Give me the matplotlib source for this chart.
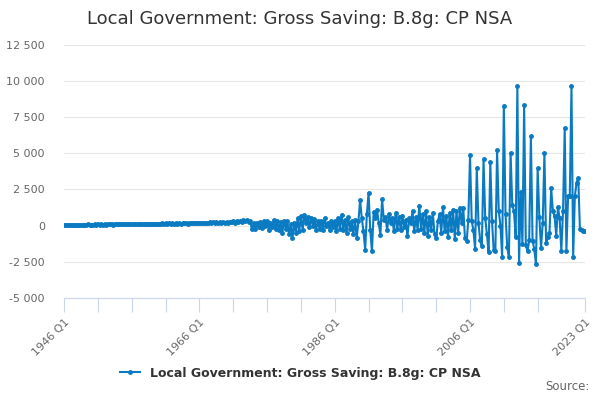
import numpy as np
import matplotlib.pyplot as plt
from matplotlib.ticker import FuncFormatter

# quarterly values, 1946 Q1 .. 2023 Q1
early = [
    60, 40, 70, 50,   70, 50, 60, 60,   60, 50, 70, 60,   70, 60, 80, 60,
    70, 60, 80, 70,   80, 60, 90, 70,   80, 70, 90, 80,   90, 70, 100, 80,
    90, 80, 100, 90,  100, 80, 110, 90,  110, 90, 120, 100,  110, 90, 130, 100,
    120, 100, 130, 110,  130, 100, 140, 120,  140, 110, 150, 120,  150, 120, 160, 130,
    160, 130, 170, 140,  170, 120, 180, 150,  180, 140, 190, 160,  190, 150, 200, 170,
    200, 150, 210, 170,  210, 160, 220, 180,  220, 170, 240, 190,  250, 180, 260, 200,
    270, 190, 280, 220,  300, 210, 330, 240,  300, 250, 380, 300,  420, 250, 300, -250,
]
seventies = [
    150, -250, 200, -100,   250, -150, 300, 0,   350, -300, 200, -100,
    400, -200, 300, -300,   250, -500, 350, -200,   300, -600, 100, -850,
    200, -500, 500, -400,   650, -300, 750, 200,   600, -100, 500, 0,
    450, -300, 300, -200,   350, -300, 500, 0,   200, -300, 300, -100,
]
nineties = [
    300, -400, 500, -200,   760, -300, 400, -500,   600, -200, 300, -600,
    400, -830, 300, 1760,   500, -400, -1670, 800,   2270, -300, -1780, 920,
    500, 1110, 200, -625,   1850, 400, 600, -300,   800, 200, 500, -400,
    900, -200, 600, -300,   700, -100, 400, -740,   500, 200, 990, -400,
    600, -300, 1390, -200,   800, -500, 1000, -700,   600, -300, 900, -600,
    -850, 300, 800, -500,   1300, -400, 700, -800,   900, -300, 1100, -900,
    1000, -500, 1230, 200,   1230, -850, -1090, 400,
]
recent = [
    4860, 300, -300, -1600,   3960, 200, -1000, -1430,   4580, 500, -600, -1850,
    4400, 300, -1700, -1740,   5230, 1000, 0, -2170,   8290, 800, -1500, -2200,
    5000, 1400, 1000, -800,   9630, -2590, 2340, -1300,   8350, -1320, -1780, -1000,
    6180, -1090, -1600, -2660,   3960, 600, -1550, 200,   5020, -1200, -800, -500,
    2570, 1000, 650, -700,   1300, 500, -1740, 1000,   6740, -1780, 2040, 2040,
    9680, -2200, 2040, 2960,   3310, -250, -300, -350,   -400,
]
values = early + seventies + nineties + recent
tick_pos = list(range(0, 300, 20)) + [308]
label_pos = {0: '1946 Q1', 80: '1966 Q1', 160: '1986 Q1', 240: '2006 Q1', 308: '2023 Q1'}

name = 'Local Government: Gross Saving: B.8g: CP NSA'
blue = '#0a7bc2'

fig = plt.figure(figsize=(6, 4), dpi=100)
ax = fig.add_axes([0.107, 0.255, 0.868, 0.633])
x = np.arange(len(values))
ax.plot(x, values, color=blue, lw=1.5, marker='o', ms=2.5, label=name)

ax.set_xlim(0, 308)
ax.set_ylim(-5000, 12500)
ax.set_yticks(range(-5000, 12501, 2500))
ax.yaxis.set_major_formatter(FuncFormatter(lambda v, p: f'{int(v):,}'.replace(',', ' ')))
ax.grid(axis='y', color='#e6e6e6', lw=0.8)
ax.set_axisbelow(True)
for s in ['top', 'right', 'left']:
    ax.spines[s].set_visible(False)
ax.spines['bottom'].set_color('#ccd6eb')
ax.tick_params(axis='y', length=0, labelsize=8, labelcolor='#666666', pad=14)
ax.set_xticks(tick_pos)
ax.set_xticklabels([label_pos.get(t, '') for t in tick_pos], rotation=45, ha='right',
                   rotation_mode='anchor')
ax.tick_params(axis='x', length=10, color='#ccd6eb', labelsize=8, labelcolor='#666666')

fig.suptitle(name, y=0.975, fontsize=13, color='#333333')
leg = fig.legend(loc='center', bbox_to_anchor=(0.5, 0.067), frameon=False,
                 prop={'weight': 'bold', 'size': 9}, handlelength=1.6, labelcolor='#333333')
fig.text(0.982, 0.025, 'Source:', ha='right', fontsize=8.5, color='#666666')

fig.savefig('out.png')
